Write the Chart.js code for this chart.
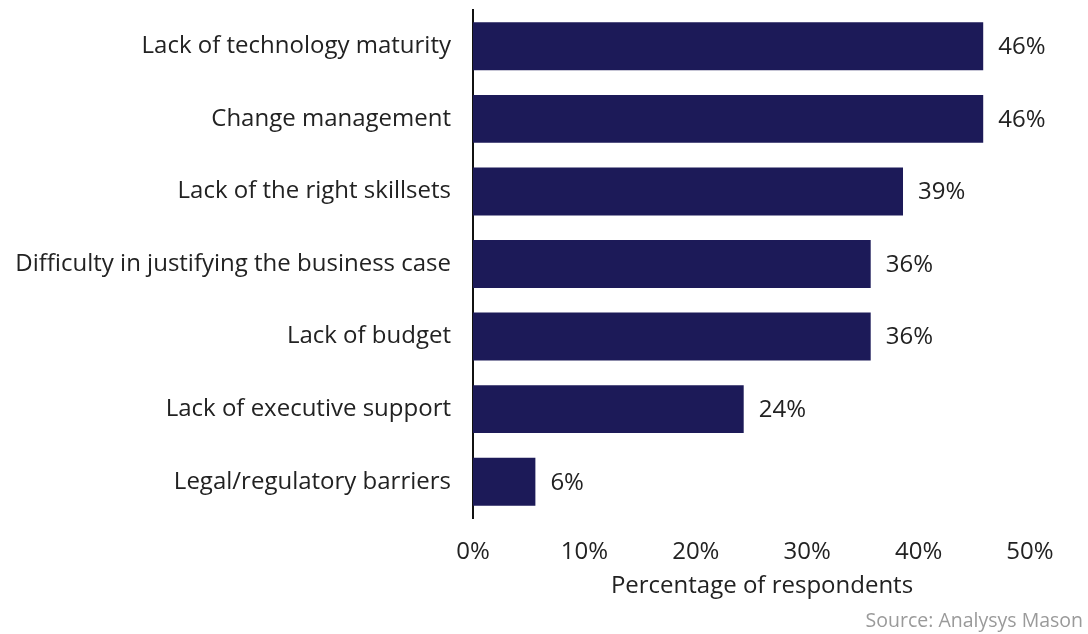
<!DOCTYPE html>
<html>
<head>
<meta charset="utf-8">
<script src="https://cdn.jsdelivr.net/npm/chart.js@4"></script>
<style>
  html, body { margin: 0; padding: 0; background: #fff; }
  canvas { display: block; }
</style>
</head>
<body>
<canvas id="grafico" width="1088" height="634"></canvas>
<script>
const categorias = [
  'Lack of technology maturity',
  'Change management',
  'Lack of the right skillsets',
  'Difficulty in justifying the business case',
  'Lack of budget',
  'Lack of executive support',
  'Legal/regulatory barriers'
];
const valores = [45.8, 45.8, 38.6, 35.7, 35.7, 24.3, 5.6];
const rotulos = ['46%', '46%', '39%', '36%', '36%', '24%', '6%'];
const tituloEixo = 'Percentage of respondents';
const fonte = 'Source: Analysys Mason';

const FONTE = '"Open Sans", "Liberation Sans", sans-serif';

// rótulos no fim das barras, título do eixo e fonte
const rotulosBarras = {
  id: 'rotulosBarras',
  afterDatasetsDraw(chart) {
    const ctx = chart.ctx;
    const meta = chart.getDatasetMeta(0);
    ctx.save();
    ctx.font = '24px ' + FONTE;
    ctx.fillStyle = '#222';
    ctx.textAlign = 'left';
    ctx.textBaseline = 'middle';
    meta.data.forEach((bar, i) => {
      ctx.fillText(rotulos[i], bar.x + 15, bar.y + 1);
    });
    ctx.textAlign = 'center';
    ctx.fillText(tituloEixo, 762, 586);
    ctx.font = '19.5px ' + FONTE;
    ctx.fillStyle = '#9a9a9a';
    ctx.textAlign = 'right';
    ctx.fillText(fonte, 1083, 621);
    ctx.restore();
  }
};

new Chart(document.getElementById('grafico'), {
  type: 'bar',
  data: {
    labels: categorias,
    datasets: [{
      data: valores,
      backgroundColor: '#1c1a58',
      barPercentage: 0.66,
      categoryPercentage: 1
    }]
  },
  options: {
    indexAxis: 'y',
    responsive: false,
    animation: false,
    layout: { padding: { top: 10, right: 58, bottom: 0, left: 0 } },
    plugins: { legend: { display: false }, tooltip: { enabled: false } },
    scales: {
      x: {
        min: 0,
        max: 50,
        grid: { display: false, drawTicks: false },
        border: { display: false },
        ticks: {
          stepSize: 10,
          padding: 20,
          color: '#222',
          font: { family: FONTE, size: 24 },
          callback: v => v + '%'
        },
        afterFit: s => { s.height = 116; }
      },
      y: {
        grid: { display: false, drawTicks: false },
        border: { display: true, color: '#111', width: 2 },
        ticks: {
          padding: 22,
          color: '#222',
          font: { family: FONTE, size: 24 }
        },
        afterFit: s => { s.width = 473; s.paddingTop = 0; s.paddingBottom = 0; }
      }
    }
  },
  plugins: [rotulosBarras]
});
</script>
</body>
</html>
